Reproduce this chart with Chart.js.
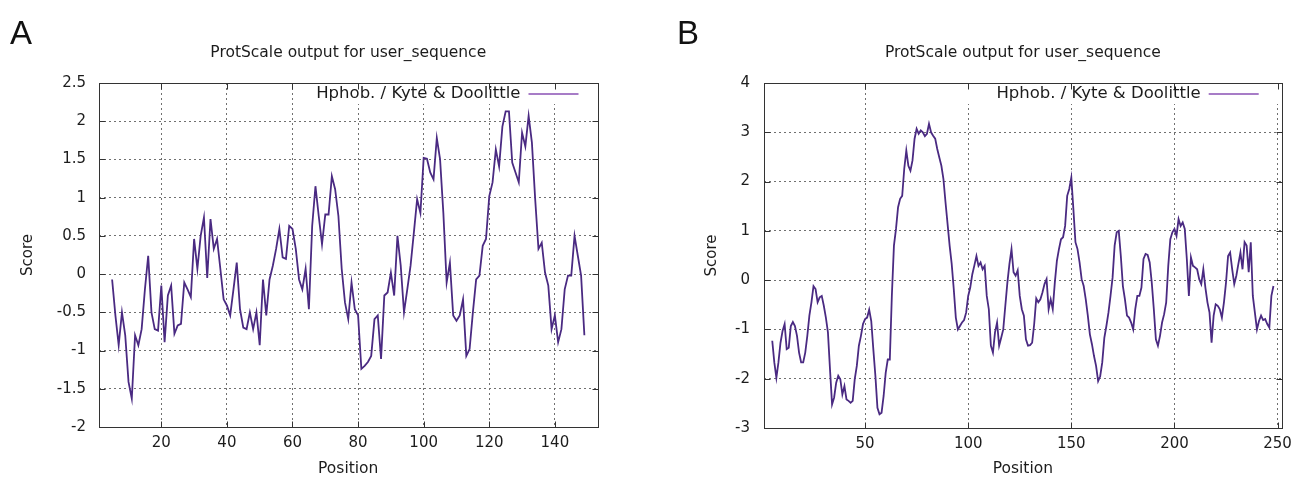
<!DOCTYPE html>
<html>
<head>
<meta charset="utf-8">
<title>ProtScale output for user_sequence</title>
<script src="https://cdn.jsdelivr.net/npm/chart.js@4.4.1/dist/chart.umd.min.js"></script>
<style>
  html, body { margin: 0; padding: 0; background: #fff; }
  #wrap { position: relative; width: 1299px; height: 481px; overflow: hidden; }
  #wrap canvas { position: absolute; top: 0; }
  .tag { position: absolute; top: 16px; font: 33px/1 "Liberation Sans", Arial, sans-serif; color: #111; }
</style>
</head>
<body>
<div id="wrap">
  <canvas id="chartA" width="650" height="481" style="left:0"></canvas>
  <canvas id="chartB" width="649" height="481" style="left:650px"></canvas>
  <div class="tag" style="left:10px">A</div>
  <div class="tag" style="left:677px">B</div>
</div>
<script>
// ====== data ======
var TITLE = 'ProtScale output for user_sequence';
var KEY_LABEL = 'Hphob. / Kyte & Doolittle';

// panel A: window centres 5..149
var firstPosA = 5;
var scoresA = [
  -0.07, -0.54, -0.93, -0.50, -0.80, -1.41, -1.63, -0.80, -0.93, -0.72,
  -0.20,  0.24, -0.50, -0.72, -0.74, -0.15, -0.89, -0.28, -0.15, -0.78,
  -0.67, -0.65, -0.11, -0.20, -0.30,  0.46,  0.07,  0.50,  0.74, -0.05,
   0.72,  0.33,  0.46,  0.07, -0.33, -0.41, -0.54, -0.20,  0.15, -0.46,
  -0.70, -0.72, -0.50, -0.72, -0.50, -0.93, -0.07, -0.54, -0.07,  0.11,
   0.33,  0.59,  0.22,  0.20,  0.63,  0.59,  0.33, -0.07, -0.20,  0.07,
  -0.46,  0.63,  1.15,  0.76,  0.39,  0.78,  0.78,  1.28,  1.11,  0.76,
   0.07, -0.37, -0.59, -0.11, -0.46, -0.54, -1.24, -1.20, -1.15, -1.07,
  -0.59, -0.54, -1.11, -0.28, -0.24,  0.02, -0.28,  0.50,  0.11, -0.50,
  -0.20,  0.11,  0.54,  0.98,  0.80,  1.52,  1.51,  1.33,  1.24,  1.78,
   1.50,  0.80, -0.11,  0.15, -0.54, -0.61, -0.54, -0.33, -1.07, -0.98,
  -0.50, -0.07, -0.02,  0.37,  0.46,  1.02,  1.20,  1.63,  1.41,  1.93,
   2.13,  2.13,  1.46,  1.33,  1.20,  1.85,  1.67,  2.07,  1.72,  0.98,
   0.33,  0.41,  0.02, -0.15, -0.72, -0.54, -0.89, -0.72, -0.20, -0.02,
  -0.02,  0.50,  0.24, -0.02, -0.80
];
var xTicksA = [20, 40, 60, 80, 100, 120, 140];
var yTicksA = [-2, -1.5, -1, -0.5, 0, 0.5, 1, 1.5, 2, 2.5];
var yLabelsA = ['-2', '-1.5', '-1', '-0.5', '0', '0.5', '1', '1.5', '2', '2.5'];

// panel B: window centres 5..248
var firstPosB = 5;
var scoresB = [
  -1.23, -1.67, -1.98, -1.67, -1.27, -1.03, -0.89, -1.40, -1.37, -0.93,
  -0.85, -0.93, -1.13, -1.47, -1.67, -1.67, -1.47, -1.13, -0.72, -0.45,
  -0.12, -0.18, -0.45, -0.35, -0.32, -0.52, -0.76, -1.06, -1.81, -2.52,
  -2.38, -2.08, -1.94, -2.01, -2.32, -2.15, -2.42, -2.45, -2.49, -2.45,
  -2.01, -1.74, -1.33, -1.13, -0.89, -0.79, -0.76, -0.60, -0.83, -1.40,
  -1.94, -2.59, -2.72, -2.69, -2.35, -1.88, -1.61, -1.61, -0.30,  0.70,
   1.04,  1.48,  1.65,  1.71,  2.26,  2.63,  2.32,  2.22,  2.43,  2.87,
   3.07,  2.97,  3.04,  3.00,  2.92,  2.97,  3.17,  3.00,  2.93,  2.87,
   2.66,  2.49,  2.32,  2.05,  1.58,  1.14,  0.70,  0.33, -0.18, -0.76,
  -1.00, -0.93, -0.86, -0.81, -0.66, -0.32, -0.15,  0.12,  0.30,  0.49,
   0.29,  0.36,  0.22,  0.29, -0.32, -0.59, -1.33, -1.47, -1.06, -0.86,
  -1.33, -1.17, -1.00, -0.52, -0.05,  0.33,  0.63,  0.16,  0.09,  0.20,
  -0.32, -0.59, -0.72, -1.20, -1.33, -1.32, -1.27, -0.89, -0.37, -0.45,
  -0.39, -0.25, -0.08,  0.02, -0.59, -0.39, -0.59, -0.05,  0.39,  0.63,
   0.83,  0.87,  1.10,  1.71,  1.85,  2.08,  1.44,  0.77,  0.63,  0.36,
   0.02, -0.12, -0.39, -0.72, -1.10, -1.30, -1.54, -1.74, -2.05, -1.95,
  -1.67, -1.17, -0.93, -0.66, -0.32,  0.05,  0.70,  0.97,  1.00,  0.49,
  -0.12, -0.39, -0.72, -0.76, -0.86, -1.00, -0.59, -0.32, -0.32, -0.15,
   0.43,  0.53,  0.51,  0.36, -0.05, -0.59, -1.20, -1.33, -1.13, -0.86,
  -0.69, -0.45,  0.29,  0.83,  0.97,  1.04,  0.90,  1.24,  1.10,  1.17,
   1.04,  0.43, -0.32,  0.46,  0.29,  0.26,  0.22,  0.02, -0.08,  0.22,
  -0.15, -0.45, -0.66, -1.27, -0.72, -0.49, -0.52, -0.59, -0.76, -0.45,
  -0.05,  0.49,  0.56,  0.22, -0.08,  0.09,  0.33,  0.56,  0.22,  0.77,
   0.70,  0.16,  0.77, -0.32, -0.66, -1.00, -0.83, -0.72, -0.81, -0.79,
  -0.89, -0.96, -0.32, -0.12
];
var xTicksB = [50, 100, 150, 200, 250];
var yTicksB = [-3, -2, -1, 0, 1, 2, 3, 4];
var yLabelsB = ['-3', '-2', '-1', '0', '1', '2', '3', '4'];

// ====== gnuplot-like frame, key and title ======
var FONT = '"DejaVu Sans", Verdana, sans-serif';
var INK = '#1c1c1c';

var gnuFrame = {
  id: 'gnuFrame',
  beforeDatasetsDraw: function(chart, args, o) {
    var a = chart.chartArea, ctx = chart.ctx;
    ctx.save();
    ctx.fillStyle = '#fff';
    ctx.fillRect(a.right - o.keyWidth, a.top + 1, o.keyWidth - 1, o.keyHeight);
    ctx.restore();
  },
  afterDatasetsDraw: function(chart, args, o) {
    var a = chart.chartArea, ctx = chart.ctx;
    var xs = chart.scales.x, ys = chart.scales.y;
    var L = Math.round(a.left) + 0.5, R = Math.round(a.right) + 0.5;
    var T = Math.round(a.top) + 0.5, B = Math.round(a.bottom) + 0.5;
    ctx.save();
    ctx.strokeStyle = '#333';
    ctx.lineWidth = 1;
    ctx.beginPath();
    xs.ticks.forEach(function(t) {
      var p = Math.round(xs.getPixelForValue(t.value)) + 0.5;
      ctx.moveTo(p, B); ctx.lineTo(p, B - 6);
      ctx.moveTo(p, T); ctx.lineTo(p, T + 6);
    });
    ys.ticks.forEach(function(t) {
      var p = Math.round(ys.getPixelForValue(t.value)) + 0.5;
      ctx.moveTo(L, p); ctx.lineTo(L + 6, p);
      ctx.moveTo(R, p); ctx.lineTo(R - 6, p);
    });
    ctx.stroke();
    ctx.strokeRect(L, T, R - L, B - T);

    // key, inside top right
    var ky = a.top + o.keyHeight / 2 + 1;
    var sx2 = a.right - o.sampleRight, sx1 = sx2 - o.sampleLen;
    ctx.strokeStyle = o.sampleColor;
    ctx.lineWidth = 1.6;
    ctx.beginPath(); ctx.moveTo(sx1, ky); ctx.lineTo(sx2, ky); ctx.stroke();
    ctx.fillStyle = INK;
    ctx.font = '16.5px ' + FONT;
    ctx.textAlign = 'right';
    ctx.textBaseline = 'middle';
    ctx.fillText(KEY_LABEL, sx1 - o.keyGap, ky);

    // title centred over the plot
    ctx.textAlign = 'center';
    ctx.font = '15.5px ' + FONT;
    ctx.fillText(TITLE, (a.left + a.right) / 2, o.titleY);
    ctx.restore();
  }
};

function makeChart(id, firstPos, scores, xTicks, yTicks, yLabels, xr, yr, box) {
  var pts = scores.map(function(v, i) { return { x: firstPos + i, y: v }; });
  var gridOpts = { color: '#707070', lineWidth: 1, drawTicks: false };
  var borderOpts = { display: false, dash: [2, 3] };
  return new Chart(document.getElementById(id), {
    type: 'line',
    data: { datasets: [{
      label: KEY_LABEL, data: pts,
      borderColor: '#4a2a82', borderWidth: 1.8,
      pointRadius: 0, tension: 0, fill: false
    }] },
    options: {
      responsive: false, animation: false, events: [],
      layout: { padding: { left: 0, right: box.right, top: box.top, bottom: 0 } },
      plugins: {
        legend: { display: false }, title: { display: false }, tooltip: { enabled: false },
        gnuFrame: box.frame
      },
      scales: {
        x: {
          type: 'linear', min: xr[0], max: xr[1],
          afterBuildTicks: function(s) { s.ticks = xTicks.map(function(v) { return { value: v }; }); },
          afterFit: function(s) { s.height = box.xHeight; },
          grid: gridOpts, border: borderOpts,
          ticks: { color: INK, font: { family: FONT, size: 15 }, padding: 7, maxRotation: 0, autoSkip: false },
          title: { display: true, text: 'Position', color: INK, font: { family: FONT, size: 15.5 }, padding: { bottom: 3 } }
        },
        y: {
          min: yr[0], max: yr[1],
          afterBuildTicks: function(s) { s.ticks = yTicks.map(function(v) { return { value: v }; }); },
          afterFit: function(s) { s.width = box.yWidth; },
          grid: gridOpts, border: borderOpts,
          ticks: {
            color: INK, font: { family: FONT, size: 15 }, padding: box.yPad, autoSkip: false,
            callback: function(v, i) { return yLabels[i]; }
          },
          title: { display: true, text: 'Score', color: INK, font: { family: FONT, size: 15 }, padding: { top: box.yTitlePad } }
        }
      }
    },
    plugins: [gnuFrame]
  });
}

makeChart('chartA', firstPosA, scoresA, xTicksA, yTicksA, yLabelsA, [1, 153], [-2, 2.5], {
  right: 52.5, top: 83, xHeight: 54, yWidth: 99, yPad: 13, yTitlePad: 19,
  frame: { keyWidth: 300, keyHeight: 20, sampleRight: 19, sampleLen: 50, keyGap: 8, sampleColor: '#8a50b4', titleY: 53 }
});
makeChart('chartB', firstPosB, scoresB, xTicksB, yTicksB, yLabelsB, [1, 252], [-3, 4], {
  right: 14, top: 83, xHeight: 53, yWidth: 114, yPad: 14, yTitlePad: 53,
  frame: { keyWidth: 320, keyHeight: 20, sampleRight: 23, sampleLen: 50, keyGap: 8, sampleColor: '#8a50b4', titleY: 53 }
});
</script>
</body>
</html>
